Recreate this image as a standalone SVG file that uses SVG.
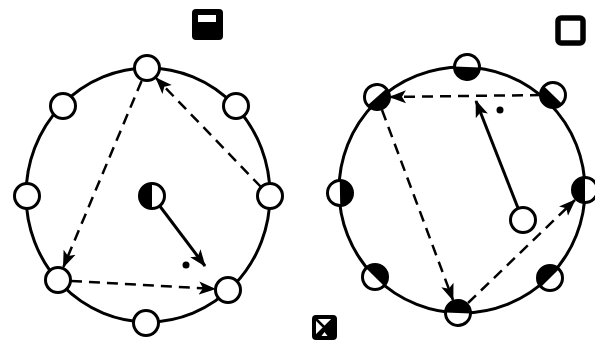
<svg xmlns="http://www.w3.org/2000/svg" width="595" height="347" viewBox="0 0 595 347">
<style>
.ring{fill:none;stroke:#000;stroke-width:3}
.node{fill:#fff;stroke:#000;stroke-width:3}
.dash{fill:none;stroke:#000;stroke-width:2.5;stroke-dasharray:11 7}
.solid{fill:none;stroke:#000;stroke-width:3}
</style>
<defs>
<marker id="ah" markerUnits="userSpaceOnUse" markerWidth="18" markerHeight="14" refX="16" refY="7" orient="auto">
<path d="M0,0.5 L17,7 L0,13.5 L4,7 Z" fill="#000"/>
</marker>
<g id="half">
<circle r="12.5" class="node"/>
<path d="M0,-12.5 A12.5,12.5 0 0 1 0,12.5 Z" fill="#000"/>
</g>
</defs>
<g id="legend">
<g id="sym-top-left">
<rect x="192" y="9" width="31" height="31" rx="4" fill="#000"/>
<rect x="198" y="15" width="18" height="7" fill="#fff"/>
</g>
<g id="sym-top-right">
<rect x="558" y="18" width="25" height="25" rx="3" fill="none" stroke="#000" stroke-width="5.5"/>
</g>
<g id="sym-bottom">
<rect x="314" y="317" width="21" height="21" rx="2" fill="#fff" stroke="#000" stroke-width="4"/>
<path d="M333,319 L333,336 L324.5,327.5 Z" fill="#000"/>
<path d="M316,336 L333,336 L324.5,327.5 Z" fill="#000"/>
<path d="M321.5,336 L327.5,336 L324.5,332 Z" fill="#fff"/>
<path d="M316,319 L333,336 M333,319 L316,336" stroke="#000" stroke-width="2.5"/>
</g>
</g>
<g id="left-ring">
<ellipse class="ring" cx="148" cy="195" rx="122" ry="127"/>
</g>
<g id="right-ring">
<circle class="ring" cx="462" cy="190" r="123"/>
</g>
<g id="connectors">
<line class="dash" x1="141.6" y1="80.9" x2="63.4" y2="267" marker-end="url(#ah)"/>
<line class="dash" x1="71" y1="281" x2="215" y2="289" marker-end="url(#ah)"/>
<line class="dash" x1="261" y1="187" x2="156" y2="78" marker-end="url(#ah)"/>
<line class="solid" x1="159" y1="205" x2="205" y2="266" marker-end="url(#ah)"/>
<line class="dash" x1="541" y1="95" x2="390" y2="97" marker-end="url(#ah)"/>
<line class="dash" x1="382" y1="110" x2="453" y2="300" marker-end="url(#ah)"/>
<line class="dash" x1="468" y1="303" x2="575" y2="200" marker-end="url(#ah)"/>
<line class="solid" x1="518" y1="208" x2="476" y2="101" marker-end="url(#ah)"/>
</g>
<g id="left-nodes">
<g id="L-top"><circle class="node" cx="147" cy="68" r="12.5"/></g>
<g id="L-ul"><circle class="node" cx="63" cy="106" r="12.5"/></g>
<g id="L-ur"><circle class="node" cx="236" cy="106" r="12.5"/></g>
<g id="L-left"><circle class="node" cx="27" cy="196" r="12.5"/></g>
<g id="L-right"><circle class="node" cx="270" cy="196" r="12.5"/></g>
<g id="L-ll"><circle class="node" cx="58" cy="280" r="12.5"/></g>
<g id="L-lr"><circle class="node" cx="228" cy="290" r="12.5"/></g>
<g id="L-bottom"><circle class="node" cx="146" cy="323" r="12.5"/></g>
<g id="L-center"><use href="#half" transform="translate(152,196) rotate(180)"/></g>
<g id="L-dot"><circle cx="186" cy="265" r="3.5" fill="#000"/></g>
</g>
<g id="right-nodes">
<g id="R-top"><use href="#half" transform="translate(467,67) rotate(92)"/></g>
<g id="R-ul"><use href="#half" transform="translate(377,97) rotate(48)"/></g>
<g id="R-left"><use href="#half" transform="translate(340,193) rotate(-1)"/></g>
<g id="R-ll"><use href="#half" transform="translate(375,277) rotate(-45)"/></g>
<g id="R-bottom"><use href="#half" transform="translate(458,313) rotate(-88)"/></g>
<g id="R-lr"><use href="#half" transform="translate(550,278) rotate(-135)"/></g>
<g id="R-right"><use href="#half" transform="translate(585,190) rotate(180)"/></g>
<g id="R-ur"><use href="#half" transform="translate(553,95) rotate(134)"/></g>
<g id="R-inner"><circle class="node" cx="523" cy="220" r="12.5"/></g>
<g id="R-dot"><circle cx="500" cy="110" r="3.5" fill="#000"/></g>
</g>
</svg>
